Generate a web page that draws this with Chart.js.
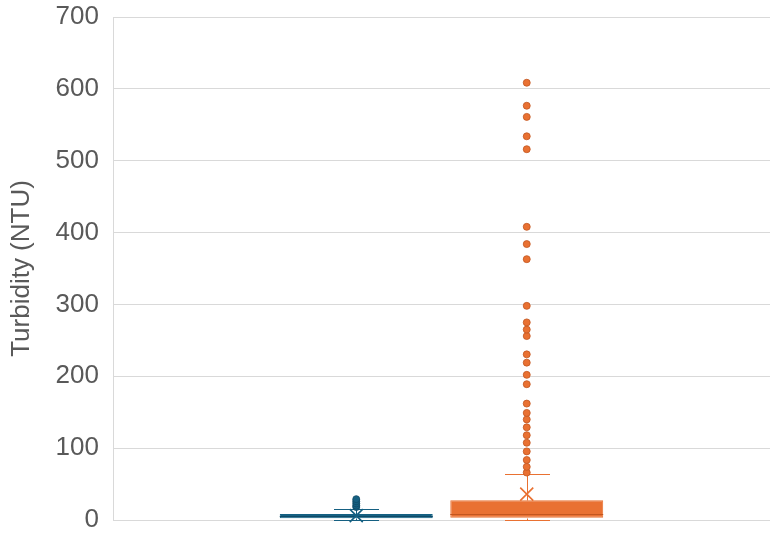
<!DOCTYPE html>
<html>
<head>
<meta charset="utf-8">
<script src="https://cdn.jsdelivr.net/npm/chart.js@4"></script>
<style>
  html, body { margin: 0; padding: 0; background: #fff; }
  #wrap { width: 771px; height: 533px; position: relative; }
</style>
</head>
<body>
<div id="wrap"><canvas id="chart"></canvas></div>
<script>
/* ---------- Данные (читаются с картинки) ---------- */
const categories = [''];
const seriesNames = ['Series 1', 'Series 2'];
const seriesColors = ['#156082', '#E97132'];
const medianColors = ['#0f4a66', '#c2561f'];

const whiskerLow = [0.5, 0];
const q1 = [2.5, 3];
const median = [5, 8];
const q3 = [8.5, 27.5];
const whiskerHigh = [15.5, 64];
const means = [6, 36];

const outliersBlue = [18, 20, 23, 26, 29];
const outliersOrange = [66, 74, 83.5, 95.5, 107.5, 118, 129, 140, 149, 162, 189, 202, 219, 230.5,
  256, 265, 275, 298, 363, 384, 408, 516, 534, 561, 576.5, 608.5];
const outliers = [outliersBlue, outliersOrange];

const yTicks = [0, 100, 200, 300, 400, 500, 600, 700];

const TEXT = '#595959';
const GRID = '#D9D9D9';

/* ---------- Усы, медиана, среднее, выбросы ---------- */
const boxExtras = {
  id: 'boxExtras',
  afterDatasetsDraw(chart) {
    const { ctx } = chart;
    const y = chart.scales.y;
    seriesNames.forEach((name, i) => {
      const bar = chart.getDatasetMeta(i).data[0];
      if (!bar) return;
      const cx = Math.round(bar.x) + 0.5;
      const half = bar.width / 2;
      const cap = 22.5;
      const py = (v) => Math.round(y.getPixelForValue(v)) + 0.5;
      ctx.save();
      ctx.strokeStyle = seriesColors[i];
      ctx.lineWidth = 1;
      // усы
      ctx.beginPath();
      ctx.moveTo(cx, py(q3[i])); ctx.lineTo(cx, py(whiskerHigh[i]));
      ctx.moveTo(cx - cap, py(whiskerHigh[i])); ctx.lineTo(cx + cap, py(whiskerHigh[i]));
      ctx.moveTo(cx, py(q1[i])); ctx.lineTo(cx, py(whiskerLow[i]));
      ctx.moveTo(cx - cap, py(whiskerLow[i])); ctx.lineTo(cx + cap, py(whiskerLow[i]));
      ctx.stroke();
      // медиана
      ctx.strokeStyle = medianColors[i];
      ctx.beginPath();
      ctx.moveTo(bar.x - half, py(median[i])); ctx.lineTo(bar.x + half, py(median[i]));
      ctx.stroke();
      // среднее (крестик)
      const my = y.getPixelForValue(means[i]);
      const s = 6.5;
      ctx.strokeStyle = seriesColors[i];
      ctx.lineWidth = 1.6;
      ctx.beginPath();
      ctx.moveTo(bar.x - s, my - s); ctx.lineTo(bar.x + s, my + s);
      ctx.moveTo(bar.x + s, my - s); ctx.lineTo(bar.x - s, my + s);
      ctx.stroke();
      // выбросы
      ctx.fillStyle = seriesColors[i];
      ctx.strokeStyle = medianColors[i];
      ctx.lineWidth = 0.8;
      outliers[i].forEach((v) => {
        ctx.beginPath();
        ctx.arc(bar.x, y.getPixelForValue(v), 3.5, 0, Math.PI * 2);
        ctx.fill();
        ctx.stroke();
      });
      ctx.restore();
    });
  },
};

new Chart(document.getElementById('chart'), {
  type: 'bar',
  data: {
    labels: categories,
    datasets: seriesNames.map((name, i) => ({
      label: name,
      data: [[q1[i], q3[i]]],
      backgroundColor: seriesColors[i],
      borderColor: seriesColors[i],
      borderWidth: 1,
      borderSkipped: false,
      categoryPercentage: 0.519,
      barPercentage: 0.897,
    })),
  },
  options: {
    responsive: true,
    maintainAspectRatio: false,
    animation: false,
    layout: { padding: { left: 0, top: 17, right: 1, bottom: 13 } },
    plugins: { legend: { display: false }, tooltip: { enabled: false } },
    scales: {
      x: { display: false },
      y: {
        min: 0,
        max: 700,
        afterBuildTicks: (scale) => { scale.ticks = yTicks.map((v) => ({ value: v })); },
        // фиксированная ширина оси и без авто-отступа под подписи
        afterFit: (scale) => { scale.width = 113; scale.paddingTop = 0; scale.paddingBottom = 0; },
        grid: { color: GRID, lineWidth: 1, drawTicks: false },
        border: { display: true, color: GRID },
        ticks: { color: TEXT, padding: 14, font: { family: '"Liberation Sans", Arial, sans-serif', size: 26 } },
        title: {
          display: true,
          text: 'Turbidity (NTU)',
          color: TEXT,
          padding: { top: 6, bottom: 0 },
          font: { family: '"Liberation Sans", Arial, sans-serif', size: 26 },
        },
      },
    },
  },
  plugins: [boxExtras],
});
</script>
</body>
</html>
